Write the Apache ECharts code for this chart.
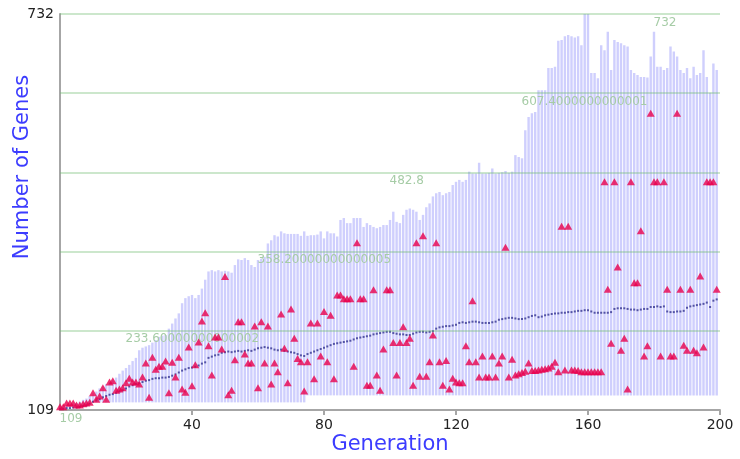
<!DOCTYPE html>
<html>
<head>
<meta charset="utf-8">
<script src="https://cdn.jsdelivr.net/npm/echarts@6/dist/echarts.min.js"></script>
<style>
html,body{margin:0;padding:0;background:#fff;}
#chart{width:740px;height:459px;}
</style>
</head>
<body>
<div id="chart"></div>
<script>
// ---- data (one value per generation 0..199) ----
const maxGenes = [
113,114,116,117,118,120,122,125,127,131,
135,138,143,146,150,153,157,160,166,171,
175,180,186,191,203,207,209,211,215,219,
224,226,227,237,245,253,261,277,285,288,
290,285,290,300,314,327,329,327,329,327,
328,327,325,337,346,345,348,345,337,334,
345,347,350,371,376,384,382,390,387,386,
386,386,386,383,390,383,384,384,385,390,
379,390,387,387,382,408,411,403,403,411,
411,411,397,403,400,397,395,397,400,400,
408,421,405,403,416,424,426,424,421,408,
416,428,434,445,450,452,447,450,452,463,
468,471,468,471,484,481,481,498,481,481,
482,489,481,482,483,485,482,484,510,507,
505,549,570,576,578,612,612,612,647,647,
649,690,691,697,699,697,695,697,683,732,
732,639,639,631,683,675,704,644,691,688,
686,683,681,644,639,636,633,633,632,665,
704,649,649,644,647,681,673,665,644,639,
647,631,649,636,639,675,633,608,654,644
];
const minGenes = [
110,110,111,111,112,112,113,114,115,121,
121,121,121,121,121,121,121,121,121,121,
121,121,121,121,121,121,121,121,121,121,
121,121,121,121,121,121,121,121,121,121,
121,121,121,121,121,121,121,121,121,121,
121,121,121,121,121,121,121,121,121,121,
121,121,121,121,121,121,121,121,121,121,
121,121,121,121,121,132,132,132,132,132,
132,132,132,132,132,132,132,132,132,132,
132,132,132,132,132,132,132,132,132,132,
132,132,132,132,132,132,132,132,132,132,
132,132,132,132,132,132,132,132,132,132,
132,132,132,132,132,132,132,132,132,132,
132,132,132,132,132,132,132,132,132,132,
132,132,132,132,132,132,132,132,132,132,
132,132,132,132,132,132,132,132,132,132,
132,132,132,132,132,132,132,132,132,132,
132,132,132,132,132,132,132,132,132,132,
132,132,132,132,132,132,132,132,132,132,
132,132,132,132,132,132,132,132,132,132
];
const meanGenes = [
111,111,112,112,113,113,114,115,116,119,
122,124,126,129,131,133,134,136,138,140,
143,146,148,150,151,153,155,156,158,159,
159,160,160,161,163,165,168,171,173,175,
176,177,179,182,184,191,193,195,196,199,
200,201,200,201,202,201,202,203,202,204,
206,207,208,207,206,204,203,204,202,201,
200,199,197,195,194,197,199,201,203,205,
207,209,211,213,214,215,216,217,218,220,
222,223,224,225,226,228,229,230,231,232,
232,230,229,228,228,227,227,229,231,232,
232,231,232,233,237,239,240,241,241,242,
243,246,247,246,247,248,248,247,246,246,
246,247,248,251,252,253,254,254,253,252,
252,253,255,257,258,255,256,258,259,260,
261,261,262,262,263,263,264,265,265,266,
266,264,262,262,262,262,262,263,268,269,
269,269,268,267,267,266,267,268,268,271,
271,272,271,272,264,263,263,264,264,265,
270,272,273,274,275,276,278,271,281,283
];
const bestGenes = [
114,114,120,120,120,117,117,119,120,121,
136,126,131,144,126,153,155,140,142,144,
152,159,153,153,150,161,183,129,192,173,
178,178,186,136,184,161,192,142,137,208,
147,180,216,249,262,210,164,224,224,205,
319,133,140,188,248,248,197,183,183,241,
144,248,183,241,150,183,169,260,206,152,
268,222,190,185,139,185,246,158,246,194,
264,185,258,158,290,290,284,284,284,178,
372,284,284,148,148,298,164,140,205,298,
298,215,164,215,240,215,222,148,372,162,
383,162,185,227,372,185,148,187,142,159,
153,152,152,210,185,281,185,161,194,161,
161,194,161,183,194,365,161,189,164,166,
168,170,183,171,171,172,173,174,175,178,
184,169,398,172,398,172,172,171,169,169,
169,169,169,169,169,468,299,214,468,334,
203,222,142,468,309,309,391,194,210,576,
468,468,194,468,299,194,194,576,299,211,
203,299,203,199,320,208,468,468,468,299
];
// horizontal reference lines and their printed labels
const gridValues = [109, 233.6, 358.2, 482.8, 607.4, 732];
const gridLabels = ["109", "233.60000000000002", "358.20000000000005", "482.8", "607.4000000000001", "732"];
const gridLabelGen = [0, 20, 60, 100, 140, 180];
const xTicks = [40, 80, 120, 160, 200];

const chart = echarts.init(document.getElementById('chart'));
const FONT = 'DejaVu Sans';

const rangeData = maxGenes.map((v, i) => [i, minGenes[i], v]);
const meanData = meanGenes.map((v, i) => [i, v]);
const bestData = bestGenes.map((v, i) => [i, v]);
const labelData = gridValues.map((v, i) => ({value: [gridLabelGen[i], v], labelText: gridLabels[i]}));

chart.setOption({
  animation: false,
  backgroundColor: '#ffffff',
  grid: {left: 60, right: 20, top: 14, bottom: 49, containLabel: false, outerBoundsMode: 'none'},
  xAxis: {
    type: 'value', min: 0, max: 200, interval: 40,
    name: 'Generation', nameLocation: 'middle', nameGap: 24, nameMoveOverlap: false,
    nameTextStyle: {color: '#3c3cff', fontSize: 21, fontFamily: FONT},
    axisLine: {show: true, lineStyle: {color: '#a6a6a6', width: 2}},
    axisTick: {show: true, length: 5, lineStyle: {color: '#a6a6a6', width: 2}},
    axisLabel: {
      color: '#222', fontSize: 14, fontFamily: FONT, margin: 8,
      showMinLabel: false,
      formatter: v => xTicks.indexOf(v) >= 0 ? String(v) : ''
    },
    splitLine: {show: false}
  },
  yAxis: {
    type: 'value', min: 109, max: 732,
    name: 'Number of Genes', nameLocation: 'middle', nameGap: 27, nameMoveOverlap: false,
    nameTextStyle: {color: '#3c3cff', fontSize: 21, fontFamily: FONT, padding: [0, 0, 0, 90]},
    axisLine: {show: true, lineStyle: {color: '#a6a6a6', width: 2}},
    axisTick: {show: false},
    axisLabel: {
      color: '#222', fontSize: 14, fontFamily: FONT, margin: 6,
      showMinLabel: true, showMaxLabel: true,
      formatter: v => (v === 109 || v === 732) ? String(v) : ''
    },
    splitLine: {show: false}
  },
  series: [
    {
      name: 'Range', type: 'custom', z: 1, silent: true,
      data: rangeData,
      encode: {x: 0, y: [1, 2]},
      renderItem: function (params, api) {
        const g = api.value(0);
        const top = api.coord([g, api.value(2)]);
        const bot = api.coord([g, api.value(1)]);
        return {
          type: 'rect',
          shape: {x: top[0] - 1.2, y: top[1], width: 2.4, height: bot[1] - top[1]},
          style: {fill: '#cfcffd'}
        };
      }
    },
    {
      name: 'Grid', type: 'scatter', z: 2, silent: true,
      symbolSize: 1, itemStyle: {color: 'rgba(0,0,0,0)'},
      data: labelData,
      label: {
        show: true, position: [0, 3], align: 'left', verticalAlign: 'top',
        color: '#a6cca6', fontSize: 12, fontFamily: FONT, opacity: 1,
        formatter: p => p.data.labelText
      },
      markLine: {
        silent: true, symbol: 'none', animation: false,
        label: {show: false},
        lineStyle: {color: 'rgba(110,185,110,0.35)', width: 2, type: 'solid'},
        data: gridValues.slice(1).map(v => ({yAxis: v}))
      }
    },
    {
      name: 'Mean', type: 'scatter', z: 3, silent: true,
      symbol: 'rect', symbolSize: [2, 2],
      itemStyle: {color: '#33338f'},
      data: meanData
    },
    {
      name: 'Best', type: 'scatter', z: 4, silent: true,
      symbol: 'triangle', symbolSize: [8, 7],
      itemStyle: {color: '#e8004e'},
      data: bestData
    }
  ]
});
</script>
</body>
</html>
